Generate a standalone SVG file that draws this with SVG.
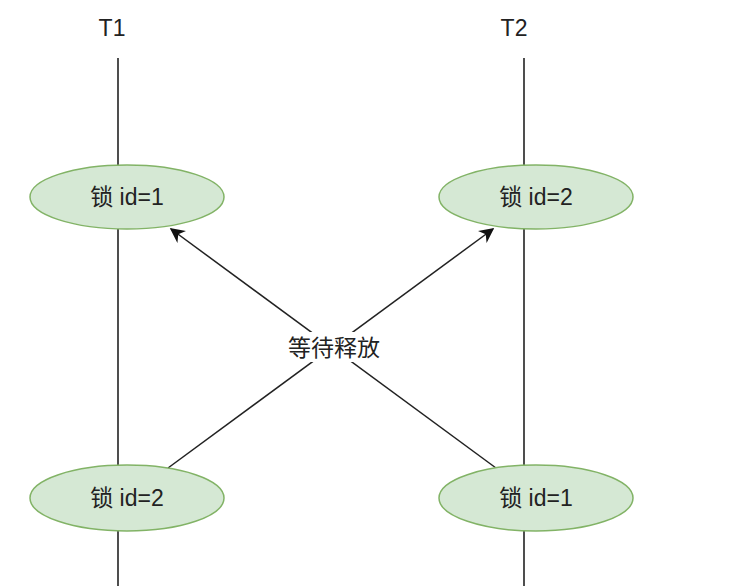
<svg xmlns="http://www.w3.org/2000/svg" width="751" height="586" viewBox="0 0 751 586">
<style>
.lane{stroke:#222;stroke-width:1.6;fill:none}
.lock ellipse{fill:#d5e8d4;stroke:#82b366;stroke-width:1.5}
.t{font-family:"Liberation Sans","Noto Sans CJK SC",sans-serif;font-size:23px;fill:#222;text-anchor:middle}
.edge{stroke:#222;stroke-width:1.5;fill:none}
</style>
<defs>
<marker id="ah" viewBox="0 0 10 10" refX="9" refY="5" markerWidth="15" markerHeight="15" orient="auto" markerUnits="userSpaceOnUse">
<path d="M0,0 L10,5 L0,10 L3,5 Z" fill="#111"/>
</marker>
</defs>
<rect width="751" height="586" fill="#fff"/>
<g id="T1">
<text class="t" x="112" y="36">T1</text>
<line class="lane" x1="118" y1="58" x2="118" y2="586"/>
</g>
<g id="T2">
<text class="t" x="514" y="36">T2</text>
<line class="lane" x1="524" y1="58" x2="524" y2="586"/>
</g>
<g id="connectors">
<line class="edge" x1="168" y1="468" x2="493" y2="229" marker-end="url(#ah)"/>
<line class="edge" x1="496" y1="468" x2="171" y2="229" marker-end="url(#ah)"/>
<rect x="282" y="332" width="104" height="30" fill="#fff"/>
<text class="t" x="334" y="356">等待释放</text>
</g>
<g id="lock-t1-1" class="lock">
<ellipse cx="127" cy="197" rx="97" ry="32"/>
<text class="t" x="127" y="205">锁 id=1</text>
</g>
<g id="lock-t2-2" class="lock">
<ellipse cx="536" cy="197" rx="97" ry="32"/>
<text class="t" x="536" y="205">锁 id=2</text>
</g>
<g id="lock-t1-2" class="lock">
<ellipse cx="127" cy="498" rx="97" ry="33"/>
<text class="t" x="127" y="506">锁 id=2</text>
</g>
<g id="lock-t2-1" class="lock">
<ellipse cx="536" cy="498" rx="97" ry="33"/>
<text class="t" x="536" y="506">锁 id=1</text>
</g>
</svg>
